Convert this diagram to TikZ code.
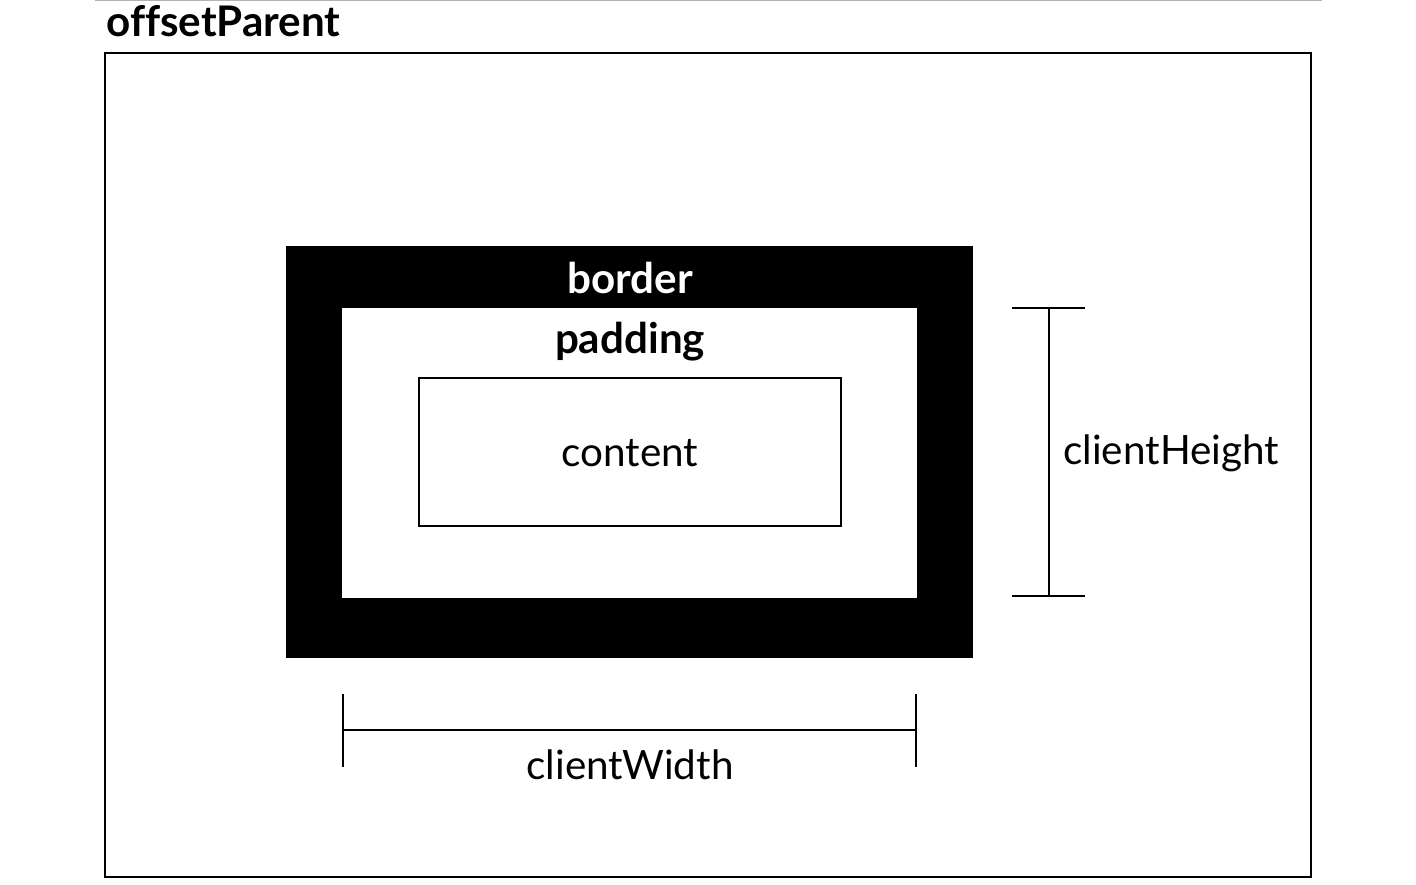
\documentclass[tikz,border=0pt]{standalone}
\usepackage{fontspec}
\setmainfont[Ligatures=NoCommon]{Lato}
\tikzstyle{label} = [inner sep=0pt, font=\fontsize{23}{27}\selectfont]
\tikzstyle{title} = [label, font=\fontsize{24}{28}\selectfont\bfseries]
\tikzstyle{measure} = [line width=1.5pt]

\begin{document}
\begin{tikzpicture}[x=0.02cm, y=-0.02cm]
\useasboundingbox (0,0) rectangle (1416,885);

\draw[black!30, line width=1.5pt] (95,0) -- (1322,0);
\node[title, anchor=west] (parent) at (106,21) {offsetParent};
\draw[line width=1.2pt] (105,53) rectangle (1311,877);

    	%box model
\fill (286,246) rectangle (973,658);
\fill[white] (342,308) rectangle (917,598);
\draw[line width=1.2pt] (419,378) rectangle (841,526);
\node[title, text=white] (border) at (630,278) {border};
\node[title] (padding) at (630,342) {padding};
\node[label] (content) at (630,453) {content};

    	%clientHeight
\coordinate (h top) at (1049,308);
\coordinate (h bot) at (1049,596);
\draw[measure] (h top) -- (h bot);
\draw[measure] ([xshift=-37*0.02cm]h top) -- ([xshift=36*0.02cm]h top);
\draw[measure] ([xshift=-37*0.02cm]h bot) -- ([xshift=36*0.02cm]h bot);
\node[label, anchor=west] (height) at (1063,453) {clientHeight};

    	%clientWidth
\coordinate (w left) at (343,730);
\coordinate (w right) at (916,730);
\draw[measure] (w left) -- (w right);
\draw[measure] ([yshift=36*0.02cm]w left) -- ([yshift=-37*0.02cm]w left);
\draw[measure] ([yshift=36*0.02cm]w right) -- ([yshift=-37*0.02cm]w right);
\node[label] (width) at (630,765) {clientWidth};

\end{tikzpicture}
\end{document}
